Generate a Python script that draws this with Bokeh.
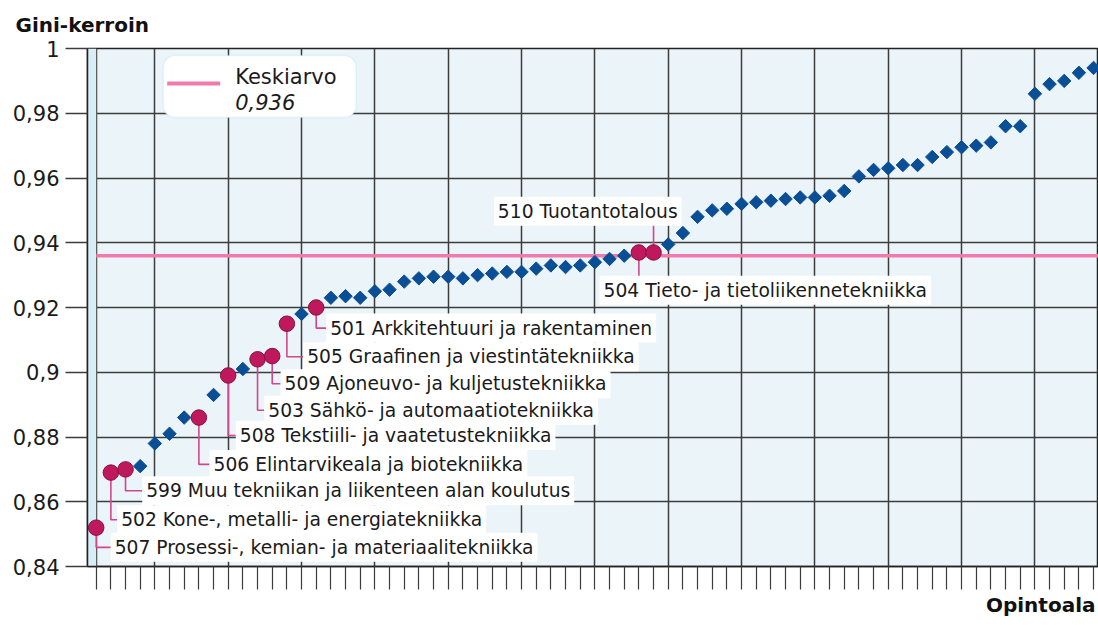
import numpy as np
from bokeh.plotting import figure
from bokeh.models import FixedTicker, Label, BoxAnnotation, Range1d, Title
from bokeh.embed import file_html
from bokeh.resources import INLINE

# ---------------- data ----------------
gini_values = [
    0.852, 0.869, 0.870, 0.871, 0.878, 0.881, 0.886, 0.886, 0.893, 0.899,
    0.901, 0.904, 0.905, 0.915, 0.918, 0.920, 0.923, 0.9235, 0.923, 0.925,
    0.9255, 0.928, 0.929, 0.9295, 0.9295, 0.929, 0.930, 0.9305, 0.931, 0.931,
    0.932, 0.933, 0.9325, 0.933, 0.934, 0.935, 0.936, 0.937, 0.937, 0.9395,
    0.943, 0.948, 0.950, 0.9505, 0.952, 0.9525, 0.953, 0.9535, 0.954, 0.954,
    0.9545, 0.956, 0.9605, 0.9625, 0.963, 0.964, 0.964, 0.9665, 0.968, 0.9695,
    0.970, 0.971, 0.976, 0.976, 0.986, 0.989, 0.990, 0.9925, 0.994,
]
highlight_index = [0, 1, 2, 7, 9, 11, 12, 13, 15, 37, 38]
highlight_labels = [
    "507 Prosessi-, kemian- ja materiaalitekniikka",
    "502 Kone-, metalli- ja energiatekniikka",
    "599 Muu tekniikan ja liikenteen alan koulutus",
    "506 Elintarvikeala ja biotekniikka",
    "508 Tekstiili- ja vaatetustekniikka",
    "503 Sähkö- ja automaatiotekniikka",
    "509 Ajoneuvo- ja kuljetustekniikka",
    "505 Graafinen ja viestintätekniikka",
    "501 Arkkitehtuuri ja rakentaminen",
    "504 Tieto- ja tietoliikennetekniikka",
    "510 Tuotantotalous",
]
mean_value = 0.936
y_ticks = [0.84, 0.86, 0.88, 0.90, 0.92, 0.94, 0.96, 0.98, 1.0]
y_tick_labels = ["0,84", "0,86", "0,88", "0,9", "0,92", "0,94", "0,96", "0,98", "1"]
y_title = "Gini-kerroin"
x_title = "Opintoala"
legend_title = "Keskiarvo"
legend_value = "0,936"

# ---------------- layout ----------------
W, H = 1098, 625
ML, MT, MB, MR = 87, 48, 59, 0
FW, FH = W - ML - MR, H - MT - MB
STEP = 14.667                    # px per category
n = len(gini_values)
x0 = -8.7 / STEP
x1 = x0 + FW / STEP
y0, y1 = y_ticks[0], y_ticks[-1]
PY = FH / (y1 - y0)              # px per unit of y
FONT = "DejaVu Sans"
TXT = "#1a1a1a"
GRID = "#3c3c3c"
PAD = 4

# label placement: (dx px from point to text start, dy px downward from point to label centre, connector)
label_layout = [
    (18.5, 19.7, "elbow"), (10.3, 47.2, "elbow"), (20.7, 21.3, "elbow"),
    (14.7, 46.8, "elbow"), (11.6, 60.0, "elbow"), (10.7, 51.0, "elbow"),
    (12.4, 27.7, "elbow"), (20.3, 33.0, "elbow"), (14.0, 20.6, "elbow"),
    (-35.3, 37.7, "down"), (-155.7, -41.3, "up"),
]

p = figure(width=W, height=H, output_backend="svg", toolbar_location=None,
           x_range=Range1d(x0, x1), y_range=Range1d(y0, y1),
           min_border_left=ML, min_border_right=MR, min_border_top=MT, min_border_bottom=MB,
           background_fill_color="#eaf4f9", border_fill_color="white",
           outline_line_color="#222222", outline_line_width=1.5)

# title used as y-axis heading
p.title.text = y_title
p.title.align = "left"
p.title.vertical_align = "middle"
p.title.offset = -72
p.title.standoff = 22
p.title.text_font = FONT
p.title.text_font_size = "20px"
p.title.text_font_style = "bold"
p.title.text_color = "#111111"

# left darker strip
p.add_layout(BoxAnnotation(left=x0, right=0, fill_color="#d9edf6", fill_alpha=1.0,
                           line_color=None, level="underlay"))

# axes
p.yaxis.ticker = FixedTicker(ticks=y_ticks)
p.yaxis.major_label_overrides = {t: l for t, l in zip(y_ticks, y_tick_labels)}
p.yaxis.major_label_text_font = FONT
p.yaxis.major_label_text_font_size = "21px"
p.yaxis.major_label_text_color = TXT
p.yaxis.major_label_standoff = 6
p.yaxis.major_tick_out = 22
p.yaxis.major_tick_in = 0
p.yaxis.major_tick_line_color = GRID
p.yaxis.major_tick_line_width = 1.5
p.yaxis.minor_tick_line_color = None
p.yaxis.axis_line_color = "#222222"
p.yaxis.axis_line_width = 1.5

p.xaxis.ticker = FixedTicker(ticks=[], minor_ticks=list(range(n)))
p.xaxis.major_tick_out = 37
p.xaxis.minor_tick_out = 23
p.xaxis.minor_tick_in = 0
p.xaxis.minor_tick_line_color = GRID
p.xaxis.minor_tick_line_width = 1.2
p.xaxis.axis_line_color = "#222222"
p.xaxis.axis_line_width = 1.5

p.ygrid.ticker = FixedTicker(ticks=y_ticks)
p.ygrid.grid_line_color = GRID
p.ygrid.grid_line_width = 1.5
p.xgrid.ticker = FixedTicker(ticks=[0] + list(range(4, n, 5)))
p.xgrid.grid_line_color = GRID
p.xgrid.grid_line_width = 1.5

# x heading below
p.add_layout(Title(text=x_title, align="right", offset=3, standoff=2, text_font=FONT,
                   text_font_size="20px", text_font_style="bold", text_color="#111111"),
             "below")

# mean line
p.segment(x0=[0], x1=[n], y0=[mean_value], y1=[mean_value],
          line_color="#f07aab", line_width=3.5)

# connectors
hx = [float(i) for i in highlight_index]
hy = [gini_values[i] for i in highlight_index]
cxs, cys, lpos = [], [], []
for px, py, (dx, dy, kind) in zip(hx, hy, label_layout):
    lx = px + (dx - PAD) / STEP
    ly = py - dy / PY
    lpos.append((lx, ly))
    if kind == "elbow":
        cxs.append([px, px, lx])
        cys.append([py, ly, ly])
    elif kind == "down":
        cxs.append([px, px])
        cys.append([py, ly + 13 / PY])
    else:
        cxs.append([px, px])
        cys.append([py, ly - 13 / PY])
p.multi_line(cxs, cys, line_color="#d2478a", line_width=1.6)

# regular points (diamonds)
reg_x = [i for i in range(n) if i not in highlight_index]
reg_y = [gini_values[i] for i in reg_x]
p.scatter(reg_x, reg_y, marker="square", angle=np.pi / 4, size=9.5,
          fill_color="#0a4e96", line_color="#0a4e96")

# highlighted points (circles)
p.scatter(hx, hy, marker="circle", size=15.5, fill_color="#c0185c",
          line_color="#86103f", line_width=1)

# labels
for (lx, ly), txt in zip(lpos, highlight_labels):
    p.add_layout(Label(x=lx, y=ly, text=txt, text_font=FONT, text_font_size="18.7px",
                       text_color=TXT, text_baseline="middle", text_align="left",
                       background_fill_color="white", padding=PAD))

# legend
lg_left = x0 + (163 - 87.3) / STEP
lg_right = x0 + (356 - 87.3) / STEP
lg_top = y1 - (55 - 48) / PY
lg_bottom = y1 - (117 - 48) / PY
p.add_layout(BoxAnnotation(left=lg_left, right=lg_right, top=lg_top, bottom=lg_bottom,
                           fill_color="white", fill_alpha=1.0, line_color="#b6def0",
                           line_width=1.5, border_radius=12))
p.add_layout(BoxAnnotation(left=x0 + (167 - 87.3) / STEP, right=x0 + (220 - 87.3) / STEP,
                           top=y1 - (81 - 48) / PY, bottom=y1 - (85 - 48) / PY,
                           fill_color="#f07aab", fill_alpha=1.0, line_color=None))
p.add_layout(Label(x=x0 + (235 - 87.3) / STEP, y=y1 - (76 - 48) / PY, text=legend_title,
                   text_font=FONT, text_font_size="21px", text_color=TXT,
                   text_baseline="middle"))
p.add_layout(Label(x=x0 + (235 - 87.3) / STEP, y=y1 - (101 - 48) / PY, text=legend_value,
                   text_font=FONT, text_font_size="21px", text_color=TXT,
                   text_font_style="italic", text_baseline="middle"))

open("out.html", "w").write(file_html(p, INLINE))
